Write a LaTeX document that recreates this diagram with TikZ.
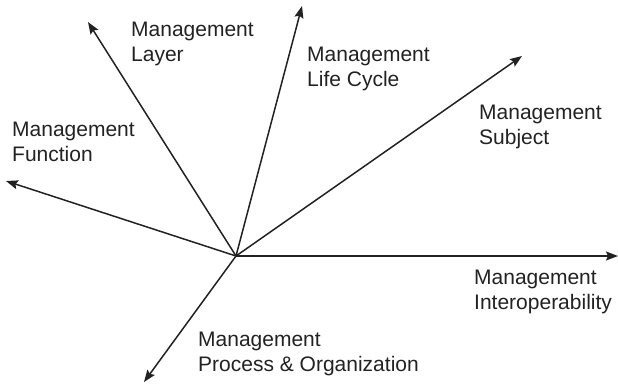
\documentclass[tikz,border=0pt]{standalone}
\usepackage{fontspec}
\setmainfont{Liberation Sans}
\usepackage{tikz}
\usetikzlibrary{arrows.meta}
\definecolor{inkgray}{HTML}{222222}
\tikzstyle{label} = [
  anchor=north west, inner sep=0pt, align=left,
  text=inkgray, font=\fontsize{21}{24.5}\selectfont
]
\tikzstyle{axis} = [-{Stealth[length=12pt,width=9pt,inset=2pt]}, line width=1.5pt, draw=inkgray]

\begin{document}
\begin{tikzpicture}[x=1pt, y=-1pt]

  \useasboundingbox (0,0) rectangle (618,383);

  % Origin and arrow ends
  \coordinate (origin) at (236, 256);
  \coordinate (layer) at (88, 22);
  \coordinate (lifecycle) at (302, 6);
  \coordinate (subject) at (522, 56);
  \coordinate (interop) at (618, 256);
  \coordinate (function) at (6, 181);
  \coordinate (process) at (144, 382);

  % Labels
  \node[label] (layerlbl) at (131, 22) {Management\\Layer};
  \node[label] (lifecyclelbl) at (307, 47) {Management\\Life Cycle};
  \node[label] (subjectlbl) at (479, 105) {Management\\Subject};
  \node[label] (interoplbl) at (474, 270) {Management\\Interoperability};
  \node[label] (functionlbl) at (12, 122) {Management\\Function};
  \node[label] (processlbl) at (198, 332) {Management\\Process \& Organization};

  % Arrows
  \draw[axis] (origin) -- (layer);
  \draw[axis] (origin) -- (lifecycle);
  \draw[axis] (origin) -- (subject);
  \draw[axis] (origin) -- (interop);
  \draw[axis] (origin) -- (function);
  \draw[axis] (origin) -- (process);

\end{tikzpicture}
\end{document}
